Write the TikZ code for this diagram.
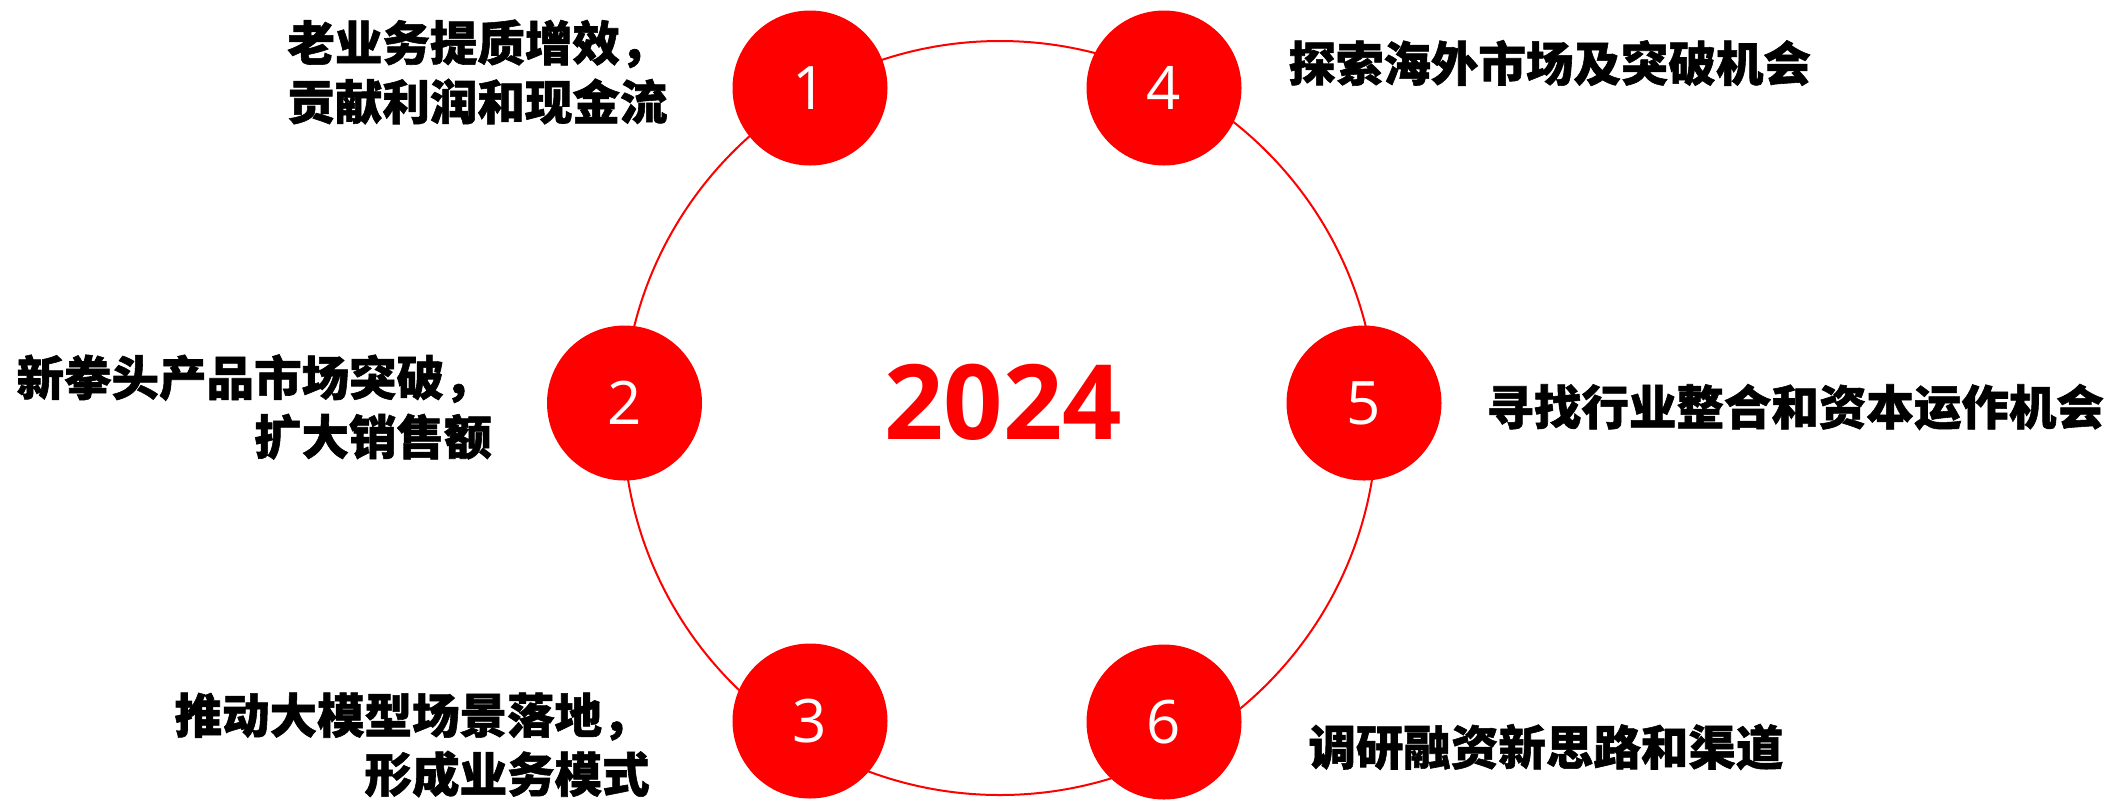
\documentclass[tikz,border=0pt]{standalone}
\usepackage{fontspec}
\usepackage{xcolor}
\usepackage{tikz}
\usetikzlibrary{calc,positioning}
\newfontfamily\cjk{Noto Sans CJK SC}[BoldFeatures={FakeBold=1.2}]
\newfontfamily\numfont{Open Sans}
\definecolor{hotred}{RGB}{255,0,0}

\begin{document}
\begin{tikzpicture}[x=0.5pt,y=-0.5pt]
\tikzstyle{dot}=[circle, fill=hotred, inner sep=0pt, minimum size=77.5pt, text=white, font=\numfont\fontsize{30}{30}\selectfont]
\tikzstyle{txt}=[inner sep=0pt, font=\cjk\bfseries\fontsize{23.75}{29.5}\selectfont]

\useasboundingbox (0,0) rectangle (2115,800);

\node[draw=hotred, line width=1pt, circle, inner sep=0pt, minimum size=377pt] (ring) at (1000,418) {};
\node[text=hotred, inner sep=0pt, font=\numfont\bfseries\fontsize{52}{52}\selectfont] (year) at (1003,402) {2024};

\node[dot] (n1) at (810,88) {1};
\node[dot] (n2) at (624.5,403) {2};
\node[dot] (n3) at (810,721) {3};
\node[dot] (n4) at (1164,88) {4};
\node[dot] (n5) at (1364,403) {5};
\node[dot] (n6) at (1164,722) {6};

%% left side
\node[txt, align=left, anchor=west] (t1) at (287,72) {老业务提质增效，\\贡献利润和现金流};
\node[txt, align=right, anchor=east] (t2) at (492,407) {新拳头产品市场突破，\\扩大销售额};
\node[txt, align=right, anchor=east] (t3) at (650,745) {推动大模型场景落地，\\形成业务模式};
%% right side
\node[txt, anchor=west] (t4) at (1288,63) {探索海外市场及突破机会};
\node[txt, anchor=west] (t5) at (1486,407) {寻找行业整合和资本运作机会};
\node[txt, anchor=west] (t6) at (1308,747) {调研融资新思路和渠道};
\end{tikzpicture}
\end{document}
